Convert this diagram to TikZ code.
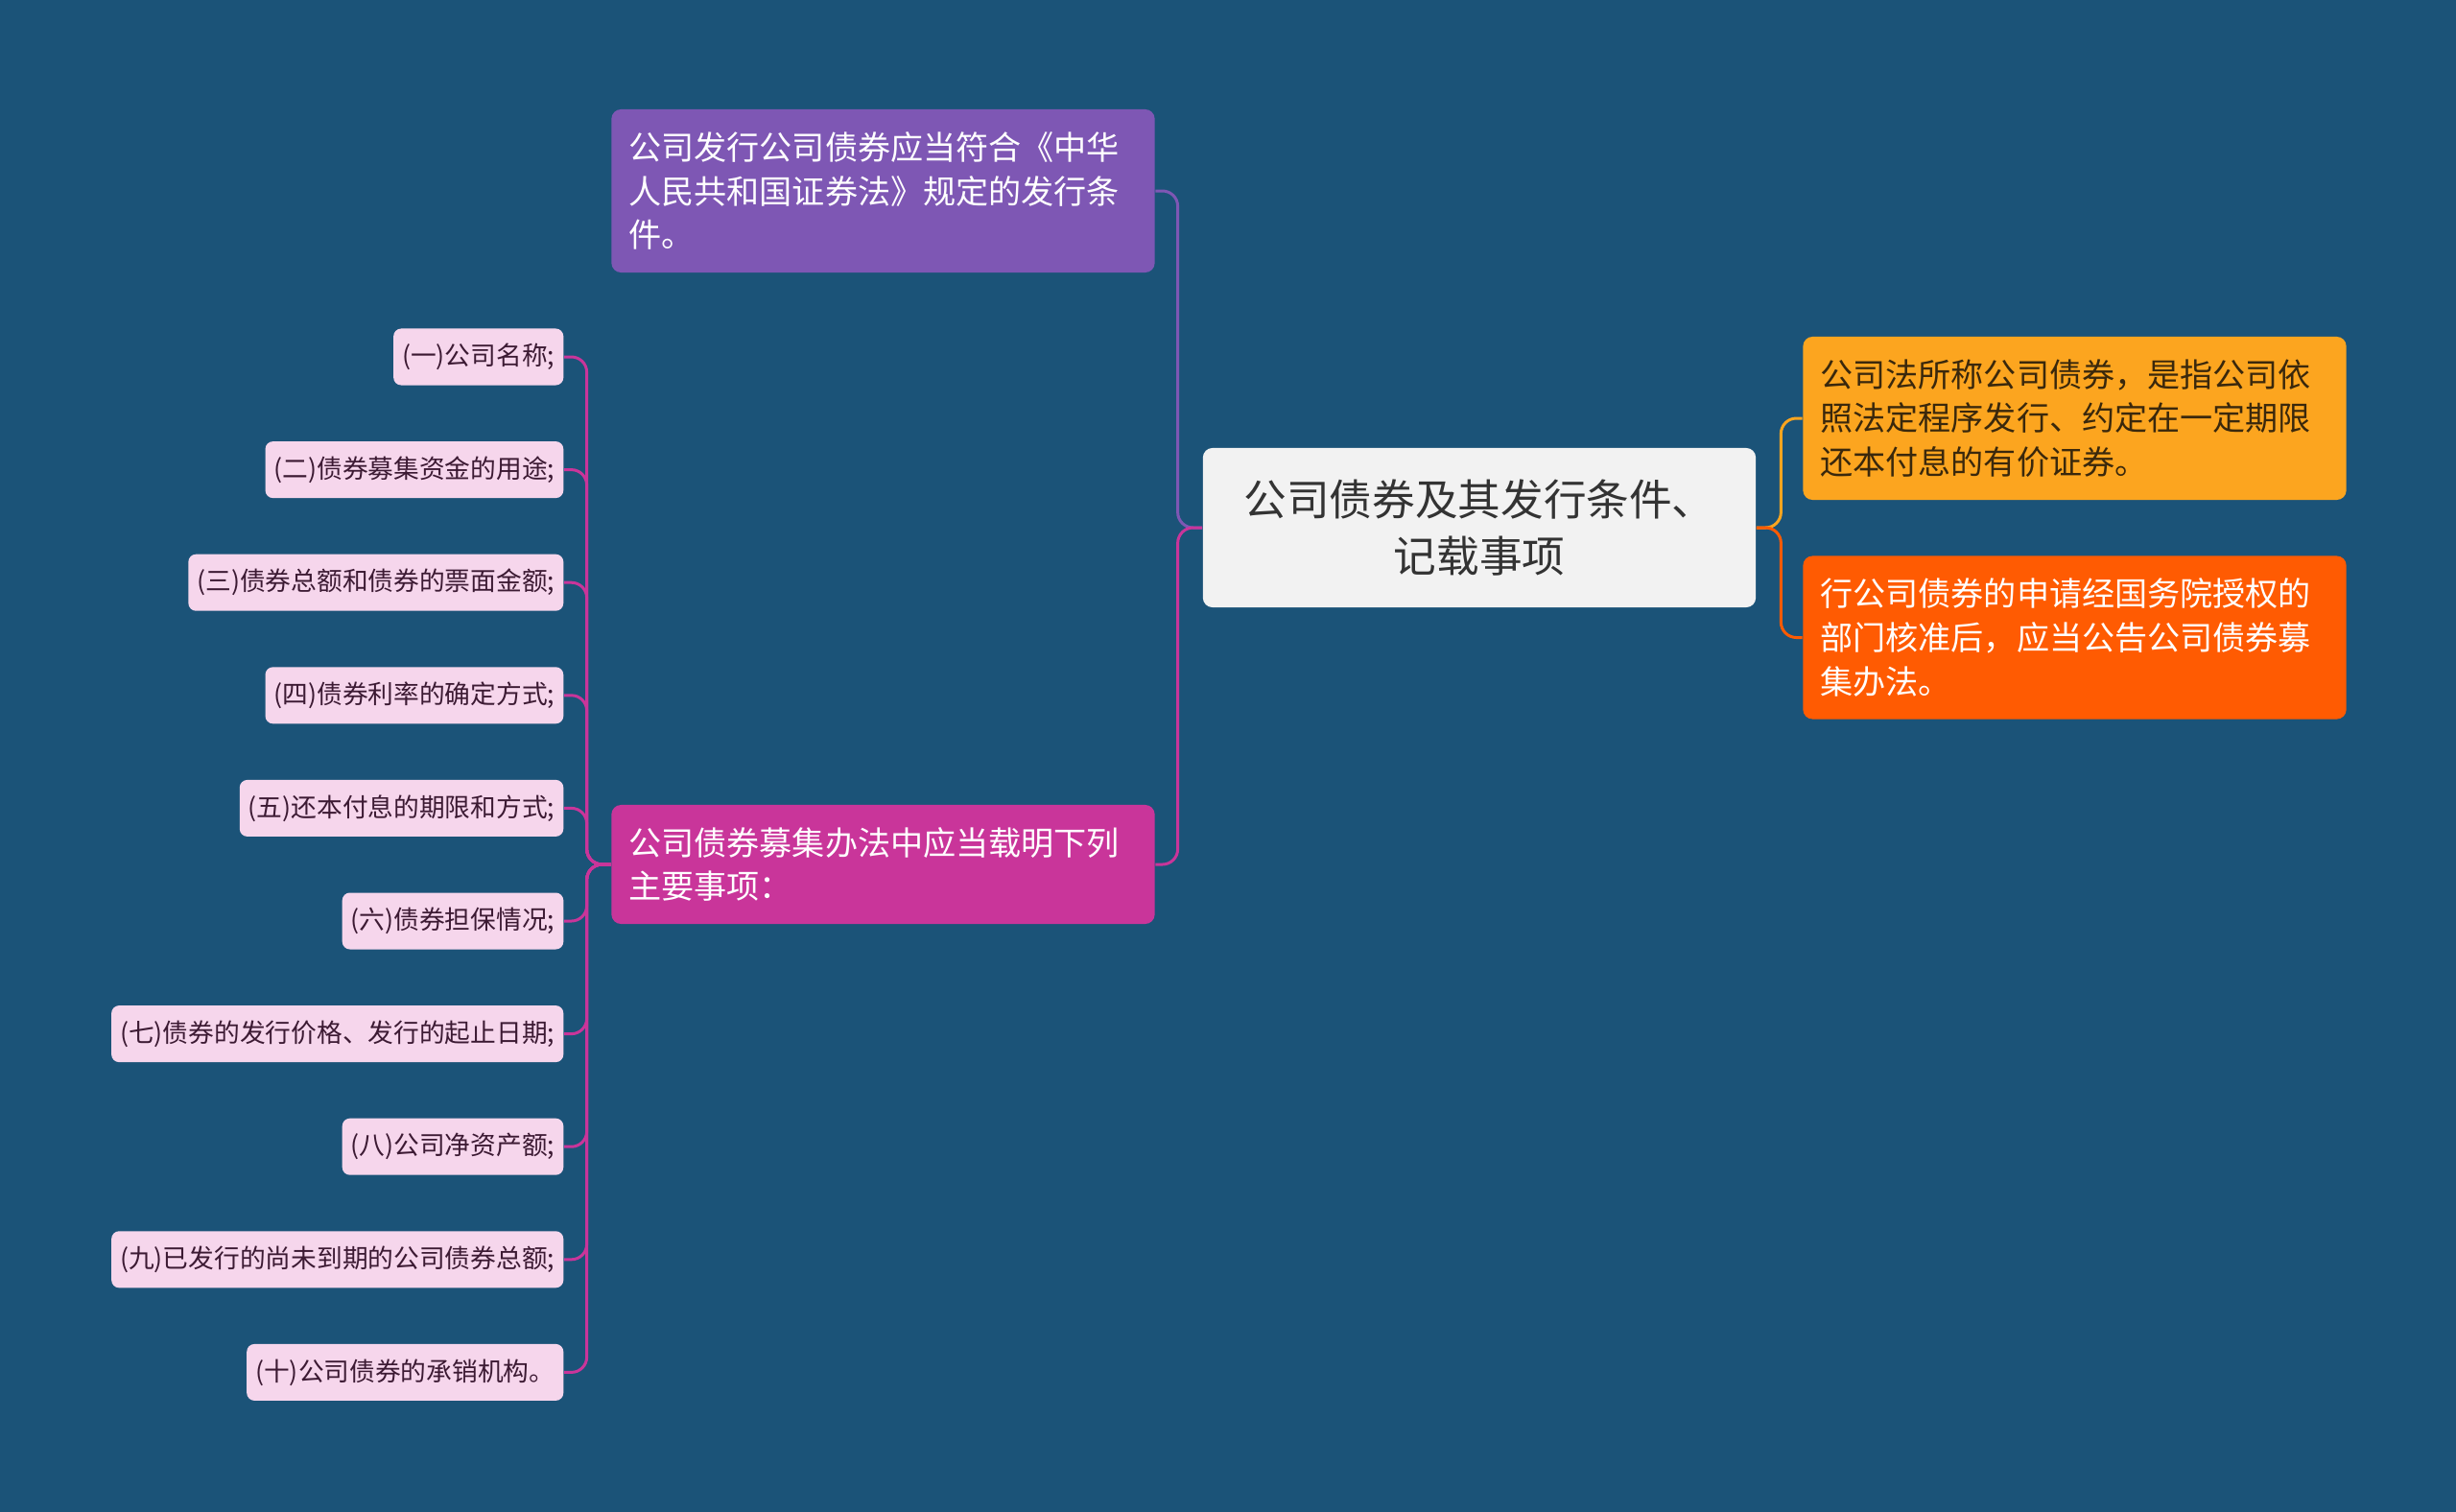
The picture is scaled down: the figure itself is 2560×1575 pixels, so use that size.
\documentclass[tikz,border=0pt]{standalone}
\usepackage{fontspec}
\setmainfont{Noto Sans CJK SC}
\usetikzlibrary{positioning}
\definecolor{bgblue}{RGB}{27,83,120}
\definecolor{rootgrey}{RGB}{242,242,242}
\definecolor{topicpurple}{RGB}{126,87,180}
\definecolor{topicmagenta}{RGB}{201,53,154}
\definecolor{topicyellow}{RGB}{252,165,31}
\definecolor{topicorange}{RGB}{255,91,2}
\definecolor{leafpink}{RGB}{246,214,236}
\definecolor{leaftext}{RGB}{60,26,51}
\definecolor{darktext}{RGB}{51,51,51}
\definecolor{browntext}{RGB}{58,40,12}

\begin{document}
\begin{tikzpicture}[x=0.01cm, y=-0.01cm,
  topic/.style={rounded corners=0.1cm, text width=5.3cm, inner xsep=0.18cm,
    align=left, font=\fontsize{9.7pt}{13pt}\selectfont},
  leaf/.style={fill=leafpink, text=leaftext, rounded corners=0.08cm,
    minimum height=0.59cm, inner xsep=0.09cm, anchor=east,
    font=\fontsize{7.6pt}{9pt}\selectfont},
  link/.style={line width=0.85pt, rounded corners=0.16cm}]
\useasboundingbox (0,0) rectangle (2560,1575);
\fill [bgblue] (-10,-10) rectangle (2570,1585);

% central topic
\node [fill=rootgrey, text=darktext, rounded corners=0.1cm, minimum width=5.76cm,
  minimum height=1.66cm, text width=5.5cm, align=center,
  font=\fontsize{12.7pt}{17pt}\selectfont] (root) at (1542,550)
  {公司债券及其发行条件、\\记载事项};

% left topics
\node [topic, fill=topicpurple, text=white, minimum height=1.70cm] (issue) at (920.5,199)
  {公司发行公司债券应当符合《中华\\人民共和国证券法》规定的发行条\\件。};
\node [topic, fill=topicmagenta, text=white, minimum height=1.24cm] (raise) at (920.5,901)
  {公司债券募集办法中应当载明下列\\主要事项：};

% right topics
\node [topic, fill=topicyellow, text=browntext, minimum height=1.70cm] (define) at (2162.5,436)
  {公司法所称公司债券，是指公司依\\照法定程序发行、约定在一定期限\\还本付息的有价证券。};
\node [topic, fill=topicorange, text=white, minimum height=1.70cm] (approve) at (2162.5,664.5)
  {行公司债券的申请经国务院授权的\\部门核准后，应当公告公司债券募\\集办法。};

\draw [link, topicpurple] (root.west) -- ++(-25.5,0) |- (issue.east);
\draw [link, topicmagenta] (root.west) -- ++(-25.5,0) |- (raise.east);
\draw [link, topicyellow] (root.east) -- ++(25.5,0) |- (define.west);
\draw [link, topicorange] (root.east) -- ++(25.5,0) |- (approve.west);

% items of the prospectus
\foreach \n/\yy/\txt in {1/372/{(一)公司名称;},
    2/489.6/{(二)债券募集资金的用途;},
    3/607.2/{(三)债券总额和债券的票面金额;},
    4/724.8/{(四)债券利率的确定方式;},
    5/842.4/{(五)还本付息的期限和方式;},
    6/960/{(六)债券担保情况;},
    7/1077.6/{(七)债券的发行价格、发行的起止日期;},
    8/1195.2/{(八)公司净资产额;},
    9/1312.8/{(九)已发行的尚未到期的公司债券总额;},
    10/1430.4/{(十)公司债券的承销机构。}}
{
  \node [leaf] (item\n) at (588,\yy) {\txt};
  \draw [link, topicmagenta] (raise.west) -- ++(-25,0) |- (item\n.east);
}
\end{tikzpicture}
\end{document}
